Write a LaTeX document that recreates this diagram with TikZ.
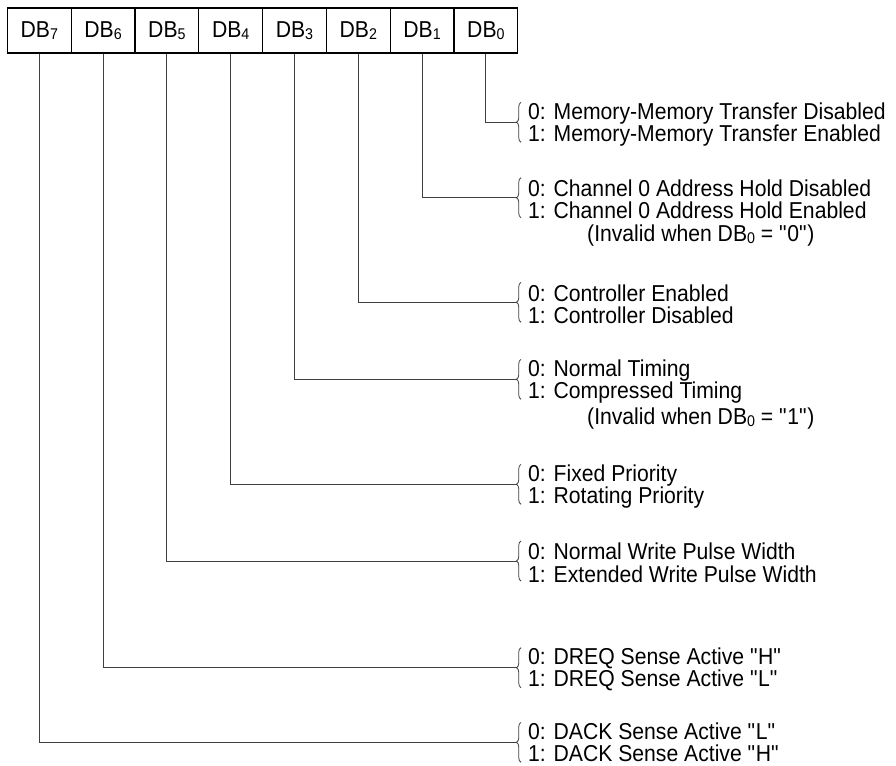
\documentclass[tikz,border=0pt]{standalone}
\usepackage{fontspec}
\setmainfont{Liberation Sans}[FakeStretch=0.92]
\usetikzlibrary{decorations.pathreplacing}

% subscript digit and straight quotes as in the data sheet
\newcommand\bitsub[1]{\raisebox{-2.3pt}{\fontsize{15.5}{15.5}\selectfont#1}}
\newcommand\qq[1]{\textquotedbl#1\textquotedbl}

\begin{document}
\begin{tikzpicture}[x=1pt, y=-1pt,
    bitbox/.style={draw, line width=1.3pt, minimum width=63.8pt, minimum height=45pt,
      inner sep=0pt, font=\fontsize{23}{22.5}\selectfont},
    field/.style={anchor=west, align=left, inner sep=0pt, font=\fontsize{23}{22.5}\selectfont},
    note/.style={anchor=base west, inner sep=0pt, font=\fontsize{23}{22.5}\selectfont},
    wire/.style={black!75, line width=1pt},
    bracket/.style={black!75, line width=0.8pt, decorate, decoration={brace, amplitude=4.5pt}}]
  \useasboundingbox (0,0) rectangle (896,765);

  % Register bits, DB7 on the left
  \foreach \b [count=\i from 0] in {7,6,5,4,3,2,1,0}
    \node[bitbox] (b\b) at (39.3+63.8*\i, 30.5) {DB\bitsub{\b}};

  % Meaning of each bit
  \node[field] (f0) at (528,124.5) {0: Memory-Memory Transfer Disabled\\1: Memory-Memory Transfer Enabled};
  \node[field] (f1) at (528,199.5) {0: Channel 0 Address Hold Disabled\\1: Channel 0 Address Hold Enabled};
  \node[note]  (n1) at (587,241) {(Invalid when DB\bitsub{0} = \qq{0})};
  \node[field] (f2) at (528,304.5) {0: Controller Enabled\\1: Controller Disabled};
  \node[field] (f3) at (528,381.5) {0: Normal Timing\\1: Compressed Timing};
  \node[note]  (n3) at (587,424) {(Invalid when DB\bitsub{0} = \qq{1})};
  \node[field] (f4) at (528,486.5) {0: Fixed Priority\\1: Rotating Priority};
  \node[field] (f5) at (528,563) {0: Normal Write Pulse Width\\1: Extended Write Pulse Width};
  \node[field] (f6) at (528,669.5) {0: DREQ Sense Active \qq{H}\\1: DREQ Sense Active \qq{L}};
  \node[field] (f7) at (528,742.5) {0: DACK Sense Active \qq{L}\\1: DACK Sense Active \qq{H}};

  % Braces and wires from the bits
  \foreach \b/\y in {0/122.3, 1/197.7, 2/302.3, 3/379.3, 4/484.3, 5/561, 6/667.7, 7/742.3} {
    \draw[bracket] (521,\y+20) -- (521,\y-20);
    \coordinate (t\b) at (516.5,\y);
    \draw[wire] (b\b.south) |- (t\b);
  }
\end{tikzpicture}
\end{document}
